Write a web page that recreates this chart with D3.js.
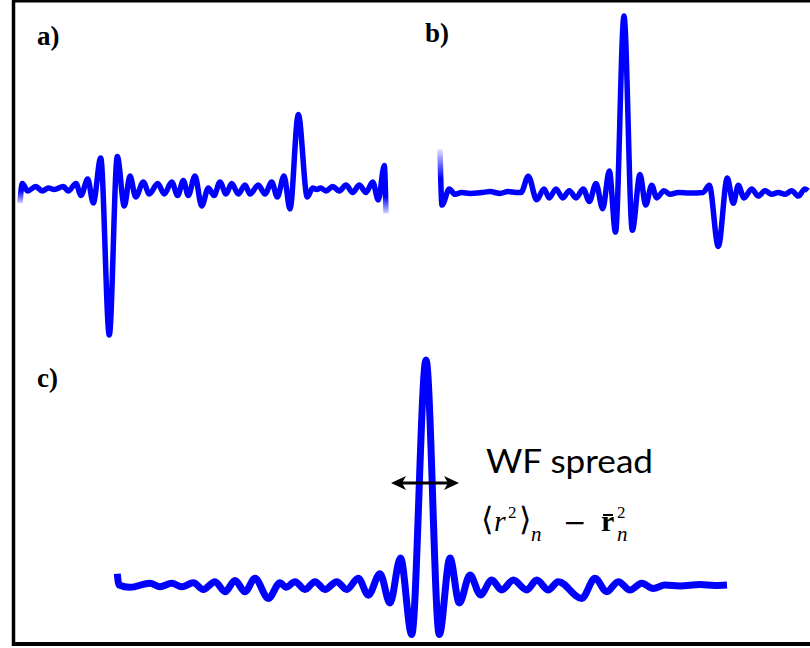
<!DOCTYPE html>
<html>
<head>
<meta charset="utf-8">
<script src="https://cdn.jsdelivr.net/npm/d3@7"></script>
<style>
  html, body { margin: 0; padding: 0; background: #fff; }
  svg { display: block; }
  .serif { font-family: "Liberation Serif", "Times New Roman", serif; }
  .sans { font-family: "Lato", "Open Sans", sans-serif; }
</style>
</head>
<body>
<svg id="chart" width="810" height="648"></svg>
<script>
// Panel a: Wannier function with a negative main lobe and a positive replica
const aPos = [0.0, 0.23, 0.77, 1.57, 2.23, 2.83, 3.43, 4.33, 4.83, 5.6, 6.1, 6.77, 7.33, 8.07, 8.93,
  9.73, 10.43, 11.0, 11.57, 12.33, 12.93, 13.77, 14.43, 15.17, 15.77, 16.33, 16.83, 17.5, 18.17,
  18.83, 19.4, 20.0, 20.6, 21.17, 21.83, 22.5, 23.0, 23.83, 24.5, 25.17, 25.73, 26.4, 27.0, 27.83,
  28.73, 29.27, 29.67, 30.07, 30.6, 31.27, 31.93, 32.6, 33.27, 33.93, 34.6, 35.27, 35.83, 36.43, 36.6];
const aPsi = [-0.10, 0.03, -0.02, 0.01, -0.02, 0.00, -0.01, 0.01, -0.02, 0.03, -0.05, 0.06, -0.10, 0.20, -0.98,
  0.21, -0.12, 0.08, -0.06, 0.04, -0.04, 0.03, -0.04, 0.04, -0.05, 0.05, -0.05, 0.08, -0.12,
  0.00, -0.05, 0.04, -0.04, 0.03, -0.04, 0.02, -0.04, 0.02, -0.04, 0.04, -0.06, 0.08, -0.14, 0.49,
  -0.06, 0.00, -0.01, 0.00, -0.02, 0.01, -0.02, 0.02, -0.03, 0.02, -0.03, 0.04, -0.08, 0.15, -0.17];

// Panel b: positive main lobe with a weaker negative replica
const bPos = [0.0, 0.2, 0.93, 1.5, 2.17, 3.0, 4.2, 5.0, 6.0, 6.8, 7.6, 8.1, 8.83, 9.67, 10.4, 10.93,
  11.6, 12.27, 12.93, 13.6, 14.33, 14.93, 15.6, 16.27, 16.93, 17.55, 18.4, 19.23, 20.0, 20.57,
  21.17, 21.67, 22.4, 23.0, 23.83, 25.0, 26.3, 26.93, 27.83, 28.73, 29.33, 29.83, 30.4, 31.17,
  31.83, 32.5, 33.17, 33.83, 34.5, 35.17, 35.83, 36.5, 36.8];
const bPsi = [0.24, -0.07, 0.02, -0.01, 0.00, -0.005, 0.0, 0.005, -0.005, 0.005, 0.0, 0.0, 0.09, -0.04, 0.02, -0.03,
  0.02, -0.03, 0.01, -0.03, 0.02, -0.05, 0.05, -0.09, 0.12, -0.22, 0.98, -0.21, 0.10, -0.07,
  0.04, -0.03, 0.01, -0.01, 0.00, -0.003, 0.0, 0.04, -0.30, 0.08, -0.06, 0.04, -0.03, 0.02,
  -0.02, 0.01, -0.01, 0.00, -0.01, 0.01, -0.02, 0.02, 0.01];

// Panel c: well-localized Wannier function
const cPos = [0.03, 0.2, 1.3, 3.3, 4.3, 5.47, 6.47, 7.63, 8.63, 9.8, 10.8, 11.8, 12.8, 13.8, 15.13,
  16.3, 16.9, 17.8, 18.8, 19.8, 20.8, 21.97, 22.97, 24.13, 25.13, 26.3, 27.3, 28.35, 29.47, 30.9,
  32.23, 33.3, 34.23, 35.3, 36.35, 37.47, 38.47, 39.63, 40.97, 41.97, 43.13, 44.13, 46.47, 47.8,
  48.97, 50.13, 51.3, 52.47, 53.63, 54.8, 56.3, 58.3, 59.8, 61.0];
const cPsi = [0.05, 0.00, -0.01, 0.008, -0.008, 0.008, -0.008, 0.01, -0.02, 0.015, -0.03, 0.02, -0.03, 0.03, -0.06,
  0.01, -0.01, 0.015, -0.02, 0.015, -0.02, 0.015, -0.02, 0.03, -0.045, 0.05, -0.08, 0.12, -0.22, 1.0,
  -0.22, 0.12, -0.08, 0.044, -0.044, 0.022, -0.022, 0.022, -0.022, 0.022, -0.022, 0.015, -0.06, 0.03,
  -0.03, 0.015, -0.022, 0.008, -0.015, 0.0, -0.004, 0.002, -0.002, 0.0];

const panelLabels = ["a)", "b)", "c)"];
const spreadLabel = "WF spread";

const svg = d3.select("#chart");
const blue = "#0000ff";

// Fade used where a trace is cut at the panel edge
const defs = svg.append("defs");
function fade(id, x1, y1, x2, y2) {
  const g = defs.append("linearGradient").attr("id", id)
    .attr("gradientUnits", "objectBoundingBox")
    .attr("x1", x1).attr("y1", y1).attr("x2", x2).attr("y2", y2);
  g.append("stop").attr("offset", 0).attr("stop-color", "#fff").attr("stop-opacity", 1);
  g.append("stop").attr("offset", 1).attr("stop-color", "#fff").attr("stop-opacity", 0);
}
fade("fadeDown", 0, 0, 0, 1);
fade("fadeUp", 0, 1, 0, 0);

// Frame (right edge runs off the page)
const frame = svg.append("g").attr("stroke", "#000").attr("fill", "none");
frame.append("line").attr("x1", 12).attr("x2", 812).attr("y1", 1).attr("y2", 1).attr("stroke-width", 3);
frame.append("line").attr("x1", 13.5).attr("x2", 13.5).attr("y1", 0).attr("y2", 646).attr("stroke-width", 3.5);
frame.append("line").attr("x1", 12).attr("x2", 812).attr("y1", 644).attr("y2", 644).attr("stroke-width", 4);

// Scales for each panel
const panels = [
  { pos: aPos, psi: aPsi,
    x: d3.scaleLinear().domain([0, 36.6]).range([20, 386]),
    y: d3.scaleLinear().domain([-1, 0.5]).range([338, 113]), width: 5.5 },
  { pos: bPos, psi: bPsi,
    x: d3.scaleLinear().domain([0, 36.8]).range([440, 808]),
    y: d3.scaleLinear().domain([-0.5, 1]).range([282.5, 12.5]), width: 5.5 },
  { pos: cPos, psi: cPsi,
    x: d3.scaleLinear().domain([0, 61]).range([117, 727]),
    y: d3.scaleLinear().domain([-0.25, 1]).range([641.25, 360]), width: 7 }
];

panels.forEach(p => {
  const pts = p.pos.map((v, i) => [v, p.psi[i]]);
  const line = d3.line()
    .x(d => p.x(d[0]))
    .y(d => p.y(d[1]))
    .curve(d3.curveMonotoneX);
  svg.append("path")
    .attr("d", line(pts))
    .attr("fill", "none")
    .attr("stroke", blue)
    .attr("stroke-width", p.width)
    .attr("stroke-linejoin", "round")
    .attr("stroke-linecap", "butt");
});

// Soften the cut ends of the a) and b) traces
const pa = panels[0], pb = panels[1];
svg.append("rect").attr("x", pa.x(0) - 4).attr("width", 8)
  .attr("y", pa.y(-0.02)).attr("height", pa.y(-0.12) - pa.y(-0.02))
  .attr("fill", "url(#fadeUp)");
svg.append("rect").attr("x", pa.x(36.6) - 5).attr("width", 8)
  .attr("y", pa.y(-0.06)).attr("height", pa.y(-0.19) - pa.y(-0.06))
  .attr("fill", "url(#fadeUp)");
svg.append("rect").attr("x", pb.x(0) - 4).attr("width", 8)
  .attr("y", pb.y(0.26)).attr("height", pb.y(0.08) - pb.y(0.26))
  .attr("fill", "url(#fadeDown)");

// Panel labels
const labelPos = [[37, 45], [425, 42], [37, 387]];
svg.selectAll("text.plabel")
  .data(panelLabels)
  .join("text")
  .attr("class", "plabel serif")
  .attr("x", (d, i) => labelPos[i][0])
  .attr("y", (d, i) => labelPos[i][1])
  .attr("font-weight", "bold")
  .attr("font-size", 27)
  .attr("fill", "#000")
  .text(d => d);

// Double-headed arrow marking the spread of the main lobe
const arrow = svg.append("g").attr("fill", "#000").attr("stroke", "none");
arrow.append("line")
  .attr("x1", 398).attr("x2", 452).attr("y1", 483).attr("y2", 483)
  .attr("stroke", "#000").attr("stroke-width", 3);
arrow.append("path").attr("d", "M391,483 L406,476 L402,483 L406,490 Z");
arrow.append("path").attr("d", "M459,483 L444,476 L448,483 L444,490 Z");

// Annotation text
svg.append("text")
  .attr("class", "sans")
  .attr("x", 486).attr("y", 473)
  .attr("font-size", 32)
  .attr("textLength", 167)
  .attr("lengthAdjust", "spacingAndGlyphs")
  .attr("fill", "#000")
  .text(spreadLabel);

// Spread formula  <r^2>_n - rbar_n^2, set as one text with positioned pieces
const base = 531;
const formula = svg.append("text").attr("class", "serif").attr("fill", "#000");
const pieces = [
  { t: "\u27E8", x: 481, dy: -1, size: 32 },
  { t: "r", x: 494, dy: 0, size: 30, italic: true },
  { t: "2", x: 508, dy: -13, size: 17 },
  { t: "\u27E9", x: 519, dy: -1, size: 32 },
  { t: "n", x: 531, dy: 10, size: 21, italic: true },
  { t: "\u2212", x: 563, dy: 1, size: 28, fam: "DejaVu Serif" },
  { t: "r", x: 601, dy: 0, size: 30, bold: true },
  { t: "2", x: 617, dy: -13, size: 17 },
  { t: "n", x: 617, dy: 10, size: 21, italic: true }
];
pieces.forEach(p => {
  const s = formula.append("tspan")
    .attr("x", p.x).attr("y", base + p.dy)
    .attr("font-size", p.size)
    .text(p.t);
  if (p.italic) s.attr("font-style", "italic");
  if (p.bold) s.attr("font-weight", "bold");
  if (p.fam) s.attr("font-family", p.fam);
});
svg.append("line").attr("x1", 603).attr("x2", 613).attr("y1", 515).attr("y2", 515)
  .attr("stroke", "#000").attr("stroke-width", 2);
</script>
</body>
</html>
